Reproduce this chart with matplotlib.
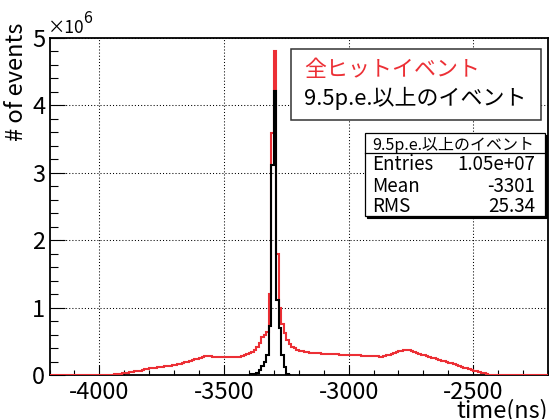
import numpy as np
import matplotlib
matplotlib.use("Agg")
import matplotlib.pyplot as plt
from matplotlib.patches import Rectangle
from matplotlib.lines import Line2D
from matplotlib.ticker import MultipleLocator, FuncFormatter

plt.rcParams['font.family'] = ['Noto Sans CJK JP', 'DejaVu Sans']
plt.rcParams['axes.unicode_minus'] = False

# 10 ns bins from -4200 to -2200 ns
bin_edges = np.arange(-4200, -2199, 10)

# all hits, events per bin in units of 1e6 (one row = 100 ns)
all_hits = [
    0, 0, 0, 0, 0, 0, 0, 0, 0, 0,
    0, 0, 0, 0, 0, 0, 0, 0, 0, 0,
    0, 0, 0, 0, 0.003, 0.007, 0.011, 0.015, 0.019, 0.023,
    0.027, 0.032, 0.038, 0.045, 0.052, 0.059, 0.066, 0.074, 0.082, 0.090,
    0.097, 0.102, 0.107, 0.112, 0.117, 0.122, 0.127, 0.132, 0.138, 0.144,
    0.150, 0.158, 0.167, 0.176, 0.186, 0.197, 0.208, 0.219, 0.231, 0.243,
    0.256, 0.270, 0.280, 0.278, 0.276, 0.274, 0.272, 0.270, 0.268, 0.266,
    0.265, 0.264, 0.263, 0.262, 0.262, 0.265, 0.272, 0.282, 0.293, 0.306,
    0.322, 0.340, 0.372, 0.420, 0.470, 0.560, 0.600, 0.640, 1.200, 3.590,
    4.800, 1.800, 1.000, 0.760, 0.620, 0.520, 0.460, 0.420, 0.395, 0.375,
    0.362, 0.352, 0.344, 0.338, 0.333, 0.329, 0.326, 0.323, 0.320, 0.317,
    0.315, 0.313, 0.311, 0.309, 0.307, 0.305, 0.303, 0.301, 0.300, 0.299,
    0.298, 0.296, 0.294, 0.292, 0.290, 0.288, 0.286, 0.284, 0.282, 0.280,
    0.278, 0.276, 0.274, 0.274, 0.282, 0.292, 0.302, 0.314, 0.326, 0.338,
    0.350, 0.360, 0.368, 0.370, 0.366, 0.356, 0.344, 0.330, 0.316, 0.303,
    0.291, 0.280, 0.270, 0.259, 0.248, 0.237, 0.226, 0.215, 0.204, 0.193,
    0.182, 0.171, 0.159, 0.147, 0.135, 0.123, 0.111, 0.099, 0.088, 0.077,
    0.066, 0.056, 0.046, 0.036, 0.026, 0.016, 0.007, 0, 0, 0,
    0, 0, 0, 0, 0, 0, 0, 0, 0, 0,
    0, 0, 0, 0, 0, 0, 0, 0, 0, 0,
]

# hits above 9.5 p.e. (only the non-empty window, -3400 to -3230 ns)
pe_edges = np.arange(-3400, -3229, 10)
pe_hits = [0.003, 0.008, 0.015, 0.030, 0.080, 0.130, 0.190, 0.300, 0.730,
           3.110, 4.220, 1.120, 0.700, 0.300, 0.120, 0.020, 0.005]

legend_labels = ["全ヒットイベント", "9.5p.e.以上のイベント"]
stats_title = "9.5p.e.以上のイベント"
stats_names = ["Entries", "Mean", "RMS"]
stats_values = ["1.05e+07", "-3301", "25.34"]

red = '#ec2f35'
W, H = 549, 419


def fx(x):
    return x / W


def fy(y):
    return 1 - y / H


fig = plt.figure(figsize=(W / 100, H / 100), dpi=100)
ax = fig.add_axes([fx(49.5), fy(375), fx(548) - fx(49.5), fy(38) - fy(375)])

ax.stairs(all_hits, bin_edges, color=red, linewidth=1.5, zorder=3)
ax.stairs(pe_hits, pe_edges, color='black', linewidth=1.5, zorder=4)

ax.set_xlim(-4200, -2200)
ax.set_ylim(0, 5)
ax.xaxis.set_major_locator(MultipleLocator(500))
ax.xaxis.set_minor_locator(MultipleLocator(100))
ax.yaxis.set_major_locator(MultipleLocator(1))
ax.yaxis.set_minor_locator(MultipleLocator(0.2))
ax.yaxis.set_major_formatter(FuncFormatter(lambda v, p: f"{v:.0f}"))
ax.grid(True, which='major', color='black', linestyle=(0, (1, 2)), linewidth=0.75, zorder=1)

ax.tick_params(which='both', direction='in', top=False, right=False, width=0.8, labelsize=17)
ax.tick_params(axis='x', which='major', length=7.2, pad=4.5)
ax.tick_params(axis='x', which='minor', length=3.6)
ax.tick_params(axis='y', which='major', length=10.8, pad=3.0)
ax.tick_params(axis='y', which='minor', length=5.8)
for s in ax.spines.values():
    s.set_linewidth(1.3)

# axis titles (ROOT style, at the axis ends)
fig.text(fx(548), fy(417), "time(ns)", ha='right', va='baseline', fontsize=17)
fig.text(fx(17), fy(23), "# of events", rotation=90, ha='center', va='top', fontsize=17)
fig.text(fx(48), fy(33.3), "×10", ha='left', va='baseline', fontsize=12.5)
fig.text(fx(83), fy(22.7), "6", ha='left', va='baseline', fontsize=11.5)

# legend box
fig.add_artist(Rectangle((fx(291), fy(120)), fx(541) - fx(291), fy(49) - fy(120),
                         transform=fig.transFigure, facecolor='white',
                         edgecolor='#333333', linewidth=1.1, zorder=10))
fig.text(fx(304), fy(76), legend_labels[0], color=red, fontsize=15.8, va='baseline', zorder=11)
fig.text(fx(304), fy(105), legend_labels[1], color='black', fontsize=15.8, va='baseline', zorder=11)

# stats box
fig.add_artist(Rectangle((fx(367), fy(218)), fx(545) - fx(365), fy(133) - fy(216),
                         transform=fig.transFigure, facecolor='black',
                         edgecolor='black', linewidth=0.8, zorder=10))
fig.add_artist(Rectangle((fx(365), fy(216)), fx(545) - fx(365), fy(133) - fy(216),
                         transform=fig.transFigure, facecolor='white',
                         edgecolor='black', linewidth=0.9, zorder=11))
fig.add_artist(Line2D([fx(365), fx(545)], [fy(153), fy(153)], transform=fig.transFigure,
                      color='black', linewidth=0.9, zorder=12))
fig.text(fx(453), fy(150), stats_title, ha='center', va='baseline', fontsize=11.5, zorder=12)
for i, (name, val) in enumerate(zip(stats_names, stats_values)):
    yb = [170, 192, 211.5][i]
    fig.text(fx(372.5), fy(yb), name, ha='left', va='baseline', fontsize=13.5, zorder=12)
    fig.text(fx(535), fy(yb), val, ha='right', va='baseline', fontsize=13.5, zorder=12)

fig.savefig("out.png", dpi=100)
